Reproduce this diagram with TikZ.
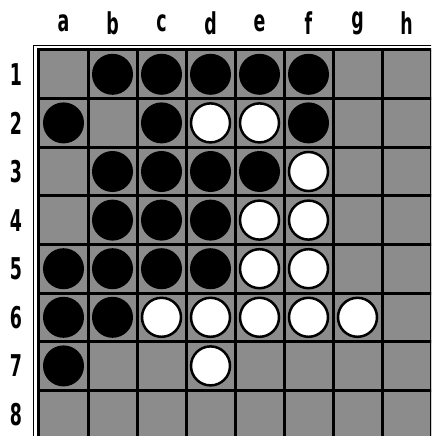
\documentclass[tikz,border=0pt]{standalone}
\usepackage{fontspec}
\setmainfont{DejaVu Sans}
\usepackage{graphicx}
\newcommand\myLab[1]{\scalebox{0.58}[1]{#1}}
\begin{document}
\begin{tikzpicture}[x=1pt,y=-1pt,
  lab/.style={font=\fontsize{30}{30}\selectfont\bfseries, inner sep=0pt, anchor=center},
  blk/.style={circle, fill=black, minimum size=41pt, inner sep=0pt},
  wht/.style={circle, fill=white, draw=black, line width=2.5pt, minimum size=39pt, inner sep=0pt},
  gridline/.style={line width=3pt, black},
  cellfill/.style={fill=black!45}]
\useasboundingbox (0,0) rectangle (431,436);
\begin{scope}
  \clip (0,0) rectangle (431,436);
  \fill[cellfill] (38,50) rectangle (445,445);
  \foreach \i in {1,...,8}
    \draw[gridline] ({39+49*\i},50) -- ({39+49*\i},445);
  \foreach \i in {1,...,8}
    \draw[gridline] (38,{50+48.6*\i}) -- (445,{50+48.6*\i});
  \draw[line width=1.4pt] (33.5,445) -- (33.5,45.3) -- (445,45.3);
  \draw[gridline] (38,445) -- (38,50) -- (445,50);
  % stones
  \foreach \c/\r in {2/1,3/1,4/1,5/1,6/1, 1/2,3/2,6/2, 2/3,3/3,4/3,5/3,
                     2/4,3/4,4/4, 1/5,2/5,3/5,4/5, 1/6,2/6, 1/7}
    \node[blk] (b-\c-\r) at ({14.5+49*\c},{25.7+48.6*\r}) {};
  \foreach \c/\r in {4/2,5/2, 6/3, 5/4,6/4, 5/5,6/5, 3/6,4/6,5/6,6/6,7/6, 4/7}
    \node[wht] (w-\c-\r) at ({14.5+49*\c},{25.7+48.6*\r}) {};
\end{scope}
% column labels
\foreach \l [count=\c] in {a,b,c,d,e,f,g,h}
  \node[lab] (col-\l) at ({14.5+49*\c},23) {\myLab{\l}};
% row labels
\foreach \r in {1,...,8}
  \node[lab] (row-\r) at (16,{25.7+48.6*\r}) {\myLab{\r}};
\end{tikzpicture}
\end{document}
